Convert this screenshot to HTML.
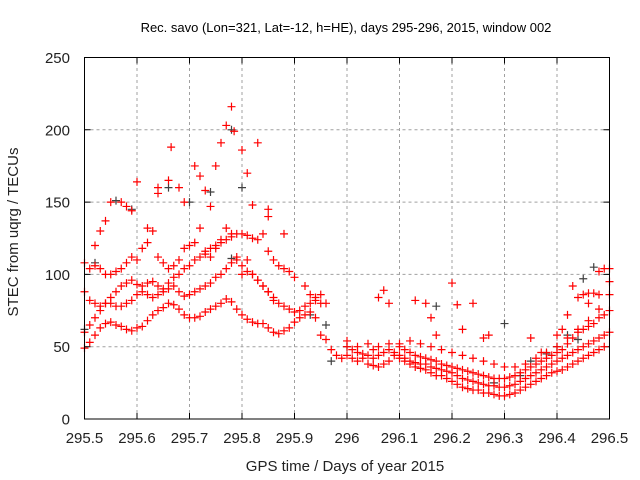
<!DOCTYPE html>
<html><head><meta charset="utf-8"><style>
body{margin:0;background:#fff;width:640px;height:480px;overflow:hidden}
svg{display:block;font-family:"Liberation Sans",sans-serif}
</style></head><body>
<svg id="chart" width="640" height="480" viewBox="0 0 640 480">
<text x="346" y="32" font-size="13" text-anchor="middle" fill="#000">Rec. savo (Lon=321, Lat=-12, h=HE), days 295-296, 2015, window 002</text>
<g id="grid"></g>
<g id="axes"></g>
<g id="marks"></g>
<rect x="84.5" y="57.5" width="525" height="361.5" fill="none" stroke="#000" stroke-width="1"/>
<text x="345" y="471" font-size="15" text-anchor="middle" fill="#222">GPS time / Days of year 2015</text>
<text transform="translate(18,232) rotate(-90)" font-size="15" text-anchor="middle" fill="#222">STEC from uqrg / TECUs</text>
</svg>
<script>
const xTicks=[295.5,295.6,295.7,295.8,295.9,296,296.1,296.2,296.3,296.4,296.5];
const xTickLabels=["295.5","295.6","295.7","295.8","295.9","296","296.1","296.2","296.3","296.4","296.5"];
const yTicks=[0,50,100,150,200,250];
const yTickLabels=["0","50","100","150","200","250"];
const grayPoints=[[295.5,62],[295.52,108],[295.56,151],[295.59,145],[295.66,160],[295.70,150],[295.74,157],[295.78,200],[295.8,160],[295.78,111],[295.97,40],[296.0,50],[296.17,78],[296.3,66],[296.35,40],[296.40,50],[296.42,58],[296.45,97],[296.47,105],[296.38,45],[296.44,55],[296.33,30],[296.28,25],[295.93,72],[295.96,65]];
const redTrackL1=[[295.50,49],[295.51,53],[295.52,58],[295.53,63],[295.54,66],[295.55,67],[295.56,65],[295.57,64],[295.58,62],[295.59,61],[295.60,63],[295.61,64],[295.62,68],[295.63,72],[295.64,75],[295.65,77],[295.66,80],[295.67,79],[295.68,76],[295.69,72],[295.70,70],[295.71,70],[295.72,71],[295.73,74],[295.74,76],[295.75,78],[295.76,80],[295.77,83],[295.78,81],[295.79,76],[295.80,72],[295.81,69],[295.82,67],[295.83,66],[295.84,66],[295.85,63],[295.86,60],[295.87,59],[295.88,61],[295.89,63],[295.90,67],[295.91,70],[295.92,72],[295.93,74],[295.94,70],[295.95,58],[295.96,55]];
const redTrackL2=[[295.50,60],[295.51,65],[295.52,70],[295.53,75],[295.54,80],[295.55,80],[295.56,78],[295.57,78],[295.58,80],[295.59,82],[295.60,86],[295.61,88],[295.62,86],[295.63,84],[295.64,86],[295.65,88],[295.66,90],[295.67,92],[295.68,88],[295.69,85],[295.70,86],[295.71,88],[295.72,90],[295.73,92],[295.74,94],[295.75,98],[295.76,100],[295.77,104],[295.78,108],[295.79,110],[295.80,106],[295.81,102],[295.82,100],[295.83,96],[295.84,92],[295.85,88],[295.86,84],[295.87,80],[295.88,78],[295.89,76],[295.90,74],[295.91,75],[295.92,78],[295.93,80],[295.94,82],[295.95,86],[295.96,80]];
const redTrackL3=[[295.50,88],[295.51,82],[295.52,80],[295.53,78],[295.54,80],[295.55,84],[295.56,88],[295.57,92],[295.58,94],[295.59,96],[295.60,93],[295.61,92],[295.62,94],[295.63,95],[295.64,92],[295.65,90],[295.66,94],[295.67,98],[295.68,100],[295.69,104],[295.70,106],[295.71,110],[295.72,112],[295.73,114],[295.74,118],[295.75,120],[295.76,122],[295.77,124],[295.78,126],[295.79,128],[295.80,128],[295.81,127],[295.82,125],[295.83,124],[295.84,128],[295.85,116],[295.86,110],[295.87,106],[295.88,104],[295.89,102],[295.90,98],[295.92,92],[295.93,86],[295.94,84],[295.95,80]];
const redTrackL4=[[295.50,108],[295.51,104],[295.52,106],[295.53,104],[295.54,100],[295.55,100],[295.56,102],[295.57,104],[295.58,108],[295.59,112],[295.60,110],[295.61,118],[295.62,122],[295.63,130],[295.64,112],[295.65,108],[295.66,104],[295.67,106],[295.68,110],[295.69,118],[295.70,120],[295.71,122],[295.72,132],[295.73,116],[295.74,112],[295.75,118],[295.76,124],[295.77,132],[295.78,128],[295.79,112],[295.80,100],[295.81,110],[295.82,100],[295.83,96],[295.84,92],[295.85,88],[295.86,82]];
const redScatterLeft=[[295.52,120],[295.53,130],[295.54,137],[295.55,150],[295.57,150],[295.58,147],[295.59,144],[295.60,164],[295.62,132],[295.64,156],[295.64,160],[295.66,165],[295.665,188],[295.68,160],[295.69,150],[295.71,175],[295.72,168],[295.73,158],[295.74,147],[295.75,175],[295.76,191],[295.77,203],[295.78,216],[295.785,199],[295.80,186],[295.81,170],[295.82,148],[295.83,191],[295.85,145],[295.85,140],[295.88,128]];
const redTrackR1=[[295.97,48],[295.98,44],[295.99,42],[296.00,44],[296.01,42],[296.02,40],[296.03,42],[296.04,38],[296.05,37],[296.06,36],[296.07,38],[296.08,40],[296.09,44],[296.10,42],[296.11,40],[296.12,38],[296.13,36],[296.14,35],[296.15,34],[296.16,32],[296.17,30],[296.18,30],[296.19,28],[296.20,26],[296.21,24],[296.22,22],[296.23,21],[296.24,20],[296.25,20],[296.26,18],[296.27,18],[296.28,17],[296.29,16],[296.30,16],[296.31,17],[296.32,18],[296.33,20],[296.34,22],[296.35,24],[296.36,26],[296.37,28],[296.38,30],[296.39,32],[296.40,33],[296.41,34],[296.42,36],[296.43,38],[296.44,40],[296.45,42],[296.46,44],[296.47,46],[296.48,48],[296.49,50]];
const redTrackR2=[[296.00,50],[296.01,48],[296.02,46],[296.03,45],[296.04,44],[296.05,42],[296.06,44],[296.07,46],[296.08,48],[296.09,46],[296.10,44],[296.11,42],[296.12,40],[296.13,39],[296.14,38],[296.15,38],[296.16,36],[296.17,35],[296.18,34],[296.19,33],[296.20,32],[296.21,30],[296.22,28],[296.23,27],[296.24,26],[296.25,25],[296.26,24],[296.27,23],[296.28,23],[296.29,22],[296.30,22],[296.31,23],[296.32,24],[296.33,26],[296.34,28],[296.35,30],[296.36,32],[296.37,34],[296.38,36],[296.39,38],[296.40,40],[296.41,42],[296.42,44],[296.43,46],[296.44,48],[296.45,50],[296.46,52],[296.47,54],[296.48,56],[296.49,58],[296.50,60]];
const redTrackR3=[[296.00,54],[296.02,50],[296.04,52],[296.05,48],[296.06,50],[296.08,52],[296.10,50],[296.11,48],[296.12,46],[296.13,44],[296.14,43],[296.15,42],[296.16,41],[296.17,40],[296.18,38],[296.19,37],[296.20,36],[296.21,35],[296.22,34],[296.23,33],[296.24,32],[296.25,31],[296.26,30],[296.27,29],[296.28,28],[296.29,28],[296.30,28],[296.31,29],[296.32,30],[296.33,32],[296.34,34],[296.35,36],[296.36,38],[296.37,40],[296.38,42],[296.39,44],[296.40,46],[296.41,48],[296.42,52],[296.43,56],[296.44,60],[296.45,62],[296.46,64],[296.47,66],[296.48,70],[296.49,72],[296.50,75]];
const redTrackR4=[[296.10,52],[296.12,54],[296.14,52],[296.16,50],[296.18,48],[296.20,46],[296.22,44],[296.24,42],[296.26,40],[296.28,38],[296.30,36],[296.32,36],[296.34,38],[296.36,42],[296.38,46],[296.40,50],[296.42,56],[296.44,62],[296.46,68],[296.48,76],[296.50,86]];
const redScatterRight=[[296.06,84],[296.07,89],[296.08,80],[296.13,82],[296.15,80],[296.16,70],[296.17,58],[296.20,94],[296.21,79],[296.22,62],[296.24,80],[296.26,56],[296.27,58],[296.35,56],[296.37,46],[296.40,58],[296.41,62],[296.42,72],[296.43,92],[296.44,84],[296.45,86],[296.46,87],[296.47,87],[296.48,102],[296.49,104],[296.50,104],[296.50,95],[296.48,86],[296.46,80]];

const NS='http://www.w3.org/2000/svg';
const X0=84.5,X1=609.5,Y0=419,Y1=57.5;
function xs(v){return X0+(v-295.5)/(296.5-295.5)*(X1-X0);}
function ys(v){return Y0-(v/250)*(Y0-Y1);}
function mk(tag,attrs,parent){const e=document.createElementNS(NS,tag);for(const k in attrs)e.setAttribute(k,attrs[k]);parent.appendChild(e);return e;}
const grid=document.getElementById('grid'),axes=document.getElementById('axes'),marks=document.getElementById('marks');
xTicks.forEach((t,i)=>{
  const x=xs(t);
  if(i>0&&i<xTicks.length-1){
    const g=mk('line',{x1:x,y1:Y0,x2:x,y2:Y1,stroke:'#a0a0a0','stroke-dasharray':'3,3'},grid);
    
    
  }
  const tk=mk('path',{d:`M${x},${Y0}v-6M${x},${Y1}v6`,stroke:'#000'},axes);
  
  
  const lb=mk('text',{x:x,y:443,'font-size':15,'text-anchor':'middle',fill:'#222'},axes);
  lb.textContent=xTickLabels[i];
  
  
});
yTicks.forEach((t,i)=>{
  const y=ys(t);
  if(i>0&&i<yTicks.length-1){
    const g=mk('line',{x1:X0,y1:y,x2:X1,y2:y,stroke:'#a0a0a0','stroke-dasharray':'3,3'},grid);
    
    
  }
  const tk=mk('path',{d:`M${X0},${y}h6M${X1},${y}h-6`,stroke:'#000'},axes);
  
  
  const lb=mk('text',{x:70,y:y+5.5,'font-size':15,'text-anchor':'end',fill:'#222'},axes);
  lb.textContent=yTickLabels[i];
  
  
});
function plot(points,color,name){
  let d='';
  points.forEach(p=>{const x=xs(p[0]),y=ys(p[1]);d+=`M${x-4},${y}h8M${x},${y-4}v8`;});
  const path=mk('path',{d:d,stroke:color,'stroke-width':1.2,fill:'none'},marks);
  
  
}
plot(grayPoints,'#404040','gray-points');
[redTrackL1,redTrackL2,redTrackL3,redTrackL4,redScatterLeft,redTrackR1,redTrackR2,redTrackR3,redTrackR4,redScatterRight].forEach(a=>plot(a,'#ff0000','red-points'));
</script>
</body></html>
